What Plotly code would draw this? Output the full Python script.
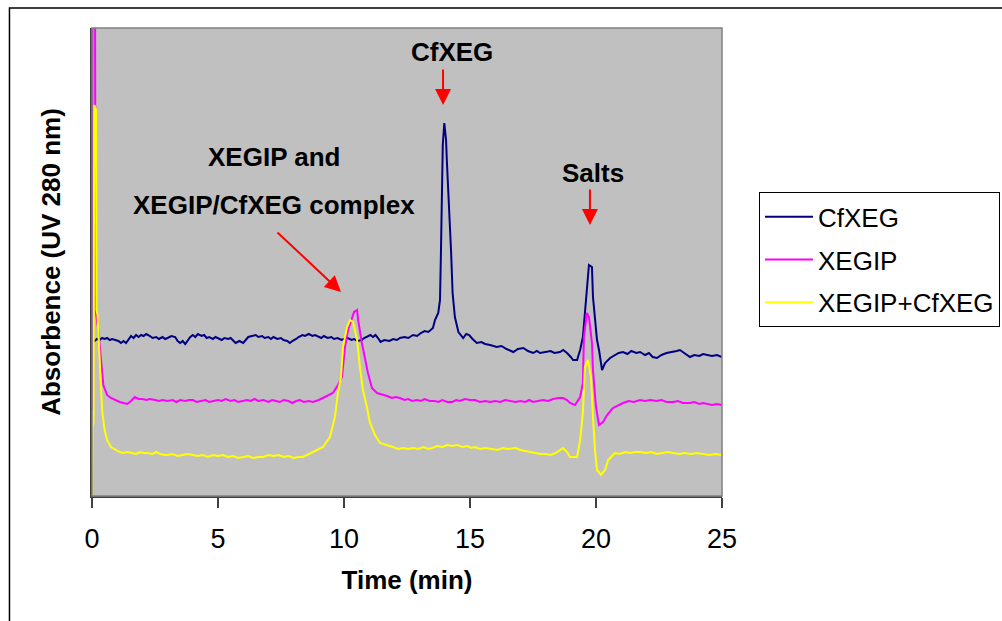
import plotly.graph_objects as go

# Elution time (min) and UV 280 nm absorbance (arbitrary units) for each run
cfxeg_time = [0.00, 0.10, 0.20, 0.30, 0.40, 0.50, 0.60, 0.70, 0.80, 0.95, 1.05, 1.15, 1.25, 1.35,
              1.45, 1.55, 1.65, 1.75, 1.85, 1.95, 2.05, 2.15, 2.30, 2.40, 2.55, 2.65, 2.80, 2.90,
              3.00, 3.15, 3.30, 3.40, 3.50, 3.60, 3.70, 3.80, 3.90, 4.00, 4.10, 4.20, 4.35, 4.45,
              4.55, 4.65, 4.80, 4.90, 5.00, 5.15, 5.25, 5.40, 5.50, 5.60, 5.70, 5.85, 6.00, 6.10,
              6.20, 6.35, 6.50, 6.60, 6.75, 6.85, 7.00, 7.10, 7.20, 7.35, 7.50, 7.60, 7.75, 7.85,
              7.95, 8.10, 8.20, 8.35, 8.45, 8.60, 8.75, 8.85, 9.00, 9.10, 9.20, 9.35, 9.50, 9.60,
              9.75, 9.90, 10.00, 10.15, 10.30, 10.40, 10.55, 10.70, 10.80, 10.95, 11.05, 11.15,
              11.25, 11.35, 11.45, 11.60, 11.80, 11.95, 12.10, 12.22, 12.40, 12.55, 12.74, 12.90,
              13.05, 13.20, 13.35, 13.53, 13.61, 13.74, 13.81, 13.85, 13.92, 13.98, 14.02, 14.05,
              14.08, 14.17, 14.25, 14.31, 14.40, 14.54, 14.73, 14.85, 14.97, 15.10, 15.27, 15.45,
              15.60, 15.80, 16.06, 16.25, 16.45, 16.72, 16.90, 17.12, 17.30, 17.51, 17.65, 17.78,
              17.95, 18.20, 18.35, 18.57, 18.70, 18.85, 19.00, 19.09, 19.25, 19.37, 19.48, 19.64,
              19.72, 19.84, 19.88, 20.04, 20.12, 20.24, 20.36, 20.56, 20.75, 20.90, 21.07, 21.25,
              21.40, 21.60, 21.75, 21.95, 22.10, 22.25, 22.42, 22.60, 22.80, 23.06, 23.20, 23.33,
              23.50, 23.73, 23.90, 24.10, 24.25, 24.40, 24.60, 24.80, 25.00]
cfxeg_abs = [157, 155, 157, 156, 158, 157, 158, 156, 157, 156, 155, 153, 155, 153,
             156, 160, 158, 161, 159, 161, 160, 162, 160, 158, 159, 157, 159, 157,
             158, 160, 159, 155, 153, 155, 152, 156, 159, 161, 159, 162, 160, 161,
             158, 159, 157, 159, 158, 156, 158, 157, 158, 155, 153, 155, 153, 156,
             159, 160, 161, 159, 160, 158, 159, 157, 159, 157, 158, 156, 155, 153,
             155, 157, 159, 161, 160, 162, 160, 161, 159, 158, 160, 158, 159, 157,
             158, 156, 157, 158, 156, 157, 155, 156, 158, 160, 161, 159,
             161, 158, 154, 156, 155, 157, 156, 158, 159, 158, 161, 160,
             163, 165, 164, 168, 176, 183, 196, 248, 351, 373, 366, 356,
             336, 291, 244, 203, 179, 164, 158, 162, 161, 157, 153, 154,
             152, 151, 149, 150, 147, 144, 147, 148, 145, 143, 145, 143,
             144, 145, 143, 144, 146, 143, 139, 136, 136, 146, 159, 206,
             231, 229, 199, 156, 146, 126, 133, 138, 141, 143, 144, 142,
             145, 143, 144, 141, 143, 139, 138, 141, 143, 144, 145, 146,
             143, 139, 141, 140, 142, 141, 140, 141, 139]

xegip_time = [0.00, 0.02, 0.12, 0.14, 0.25, 0.35, 0.45, 0.60, 0.75, 1.10, 1.25, 1.40, 1.55, 1.70,
              1.85, 2.00, 2.15, 2.30, 2.50, 2.65, 2.80, 3.00, 3.20, 3.35, 3.50, 3.70, 3.85, 4.00,
              4.15, 4.30, 4.50, 4.65, 4.80, 5.00, 5.15, 5.30, 5.50, 5.65, 5.80, 6.00, 6.15, 6.30,
              6.45, 6.60, 6.80, 7.00, 7.15, 7.30, 7.46, 7.60, 7.80, 7.95, 8.10, 8.25, 8.40, 8.60,
              8.77, 9.00, 9.17, 9.56, 9.76, 9.92, 10.04, 10.16, 10.32, 10.40, 10.52, 10.56, 10.71,
              10.83, 10.95, 11.11, 11.31, 11.71, 11.90, 12.05, 12.22, 12.40, 12.55, 12.70, 12.90,
              13.05, 13.20, 13.40, 13.60, 13.75, 13.90, 14.10, 14.30, 14.45, 14.60, 14.80, 15.00,
              15.20, 15.40, 15.60, 15.80, 16.00, 16.20, 16.40, 16.60, 16.80, 17.00, 17.20, 17.35,
              17.50, 17.70, 17.90, 18.10, 18.30, 18.50, 18.69, 18.85, 18.97, 19.17, 19.37, 19.48,
              19.52, 19.64, 19.72, 19.84, 19.88, 20.00, 20.12, 20.28, 20.44, 20.67, 21.07, 21.30,
              21.50, 21.75, 21.95, 22.15, 22.40, 22.60, 22.80, 23.06, 23.25, 23.45, 23.73, 23.90,
              24.10, 24.25, 24.40, 24.60, 24.80, 25.00]
xegip_abs = [86, 516, 516, 186, 166, 141, 111, 101, 98, 94, 93, 92, 95, 99,
             97, 97, 96, 97, 96, 95, 96, 95, 96, 94, 96, 95, 96, 96,
             94, 95, 96, 94, 95, 96, 95, 97, 95, 96, 94, 95, 96, 95,
             97, 95, 96, 94, 96, 95, 94, 96, 95, 93, 95, 96, 94, 95,
             94, 96, 98, 103, 111, 119, 149, 166, 178, 184, 186, 176, 153,
             136, 123, 108, 103, 100, 98, 99, 98, 96, 97, 95, 96,
             95, 97, 95, 95, 94, 96, 94, 94, 96, 95, 97, 96,
             96, 94, 95, 94, 95, 94, 96, 95, 94, 95, 94, 96,
             94, 95, 96, 95, 97, 98, 98, 96, 93, 91, 99, 113,
             159, 183, 179, 153, 126, 89, 71, 74, 81, 88, 93, 95,
             94, 96, 95, 96, 95, 96, 94, 94, 95, 93, 93, 94,
             92, 93, 92, 91, 92, 91]

mix_time = [0.00, 0.02, 0.06, 0.09, 0.16, 0.18, 0.22, 0.28, 0.32, 0.40, 0.50, 0.60, 0.75, 1.10,
            1.25, 1.40, 1.60, 1.75, 1.90, 2.05, 2.20, 2.40, 2.55, 2.70, 2.90, 3.00, 3.20, 3.40,
            3.60, 3.80, 4.00, 4.20, 4.40, 4.60, 4.80, 5.00, 5.20, 5.40, 5.60, 5.80, 6.00, 6.20,
            6.40, 6.60, 6.80, 7.00, 7.20, 7.40, 7.60, 7.80, 8.00, 8.20, 8.37, 8.55, 8.77, 9.17,
            9.44, 9.64, 9.76, 9.88, 9.96, 10.12, 10.24, 10.36, 10.44, 10.52, 10.63, 10.75, 10.91,
            11.03, 11.23, 11.43, 11.94, 12.15, 12.35, 12.55, 12.74, 12.95, 13.15, 13.35, 13.50,
            13.70, 13.90, 14.10, 14.30, 14.50, 14.70, 14.90, 15.05, 15.20, 15.40, 15.60, 15.85,
            16.10, 16.30, 16.50, 16.80, 17.00, 17.20, 17.40, 17.60, 17.80, 18.00, 18.20, 18.40,
            18.55, 18.69, 18.85, 18.97, 19.25, 19.37, 19.48, 19.56, 19.68, 19.80, 19.88, 19.96,
            20.04, 20.20, 20.36, 20.48, 20.75, 20.95, 21.15, 21.35, 21.55, 21.75, 22.00, 22.20,
            22.40, 22.65, 22.85, 23.06, 23.30, 23.50, 23.75, 24.00, 24.25, 24.50, 24.75, 25.00]
mix_abs = [1, 69, 74, 391, 386, 186, 181, 146, 116, 86, 66, 56, 49, 44,
           43, 44, 43, 42, 44, 43, 43, 42, 44, 42, 41, 41, 42, 40,
           41, 42, 41, 40, 41, 39, 41, 40, 41, 39, 40, 38, 39, 40,
           38, 39, 39, 41, 40, 41, 39, 40, 38, 39, 39, 41, 44, 49,
           59, 79, 103, 119, 149, 169, 176, 174, 166, 156, 129, 106, 89,
           73, 61, 53, 49, 47, 48, 47, 48, 47, 49, 47, 48,
           50, 49, 51, 50, 51, 49, 50, 48, 49, 47, 48, 47,
           46, 48, 47, 48, 46, 45, 44, 43, 42, 42, 41, 43,
           46, 48, 44, 39, 39, 56, 83, 129, 136, 119, 79, 46,
           26, 21, 26, 36, 43, 42, 44, 43, 44, 44, 43, 44,
           42, 43, 44, 43, 42, 43, 42, 43, 42, 41, 42, 41]

series_names = ["CfXEG", "XEGIP", "XEGIP+CfXEG"]
series_colors = ["#000080", "#FF00FF", "#FFFF00"]
x_ticks = [0, 5, 10, 15, 20, 25]

FONT = "Liberation Sans, Arial, sans-serif"

fig = go.Figure()
for name, t, a, c in zip(series_names,
                         [cfxeg_time, xegip_time, mix_time],
                         [cfxeg_abs, xegip_abs, mix_abs],
                         series_colors):
    fig.add_trace(go.Scatter(x=t, y=a, mode="lines", name=name, legendgroup=name,
                             line=dict(color=c, width=2)))

# peak labels
labels = [
    dict(x=14.29, y=444, text="<b>CfXEG</b>"),
    dict(x=19.88, y=323, text="<b>Salts</b>"),
    dict(x=7.22, y=339, text="<b>XEGIP and</b>"),
    dict(x=7.22, y=291, text="<b>XEGIP/CfXEG complex</b>"),
]
annotations = [dict(xref="x", yref="y", showarrow=False,
                    font=dict(family=FONT, size=26, color="black"), **d) for d in labels]

# red arrows pointing at the peaks
arrows = [
    dict(x=13.93, y=391, ax=0, ay=-37),
    dict(x=19.76, y=271, ax=0, ay=-37),
    dict(x=9.88, y=204, ax=-65, ay=-61),
]
for a in arrows:
    annotations.append(dict(xref="x", yref="y", axref="pixel", ayref="pixel", text="",
                            showarrow=True, arrowhead=2, arrowsize=1.6, arrowwidth=2,
                            arrowcolor="#FF0000", **a))

fig.update_layout(
    width=1002, height=621,
    margin=dict(l=92, r=280, t=28, b=125, autoexpand=False),
    paper_bgcolor="white", plot_bgcolor="#C0C0C0",
    font=dict(family=FONT, color="black"),
    showlegend=True,
    legend=dict(x=1.0587, y=0.649, xanchor="left", yanchor="top",
                bordercolor="black", borderwidth=1, bgcolor="white",
                font=dict(family=FONT, size=26), traceorder="grouped",
                tracegroupgap=6, itemwidth=48),
    annotations=annotations,
    shapes=[
        # plot-area frame
        dict(type="rect", xref="paper", yref="paper", x0=0, y0=0, x1=1, y1=1,
             line=dict(color="#808080", width=1.5), layer="above"),
        # outer chart border
        dict(type="rect", xref="paper", yref="paper", x0=-0.131, y0=-0.3, x1=1.5, y1=1.0427,
             line=dict(color="black", width=1.5), layer="below"),
    ],
)

fig.update_xaxes(range=[0, 25], tickvals=x_ticks, ticks="outside", ticklen=10,
                 tickcolor="#404040", tickwidth=1.5, showgrid=False, zeroline=False,
                 showline=True, linecolor="#404040", linewidth=1.5, ticklabelstandoff=8,
                 tickfont=dict(family=FONT, size=27, color="black"),
                 title=dict(text="<b>Time (min)</b>", font=dict(family=FONT, size=26), standoff=18))
fig.update_yaxes(range=[0, 468], showticklabels=False, ticks="", showgrid=False, zeroline=False,
                 showline=True, linecolor="#404040", linewidth=1.5,
                 title=dict(text="<b>Absorbence (UV 280 nm)</b>", font=dict(family=FONT, size=26),
                            standoff=22))

fig.write_html("out.html")
